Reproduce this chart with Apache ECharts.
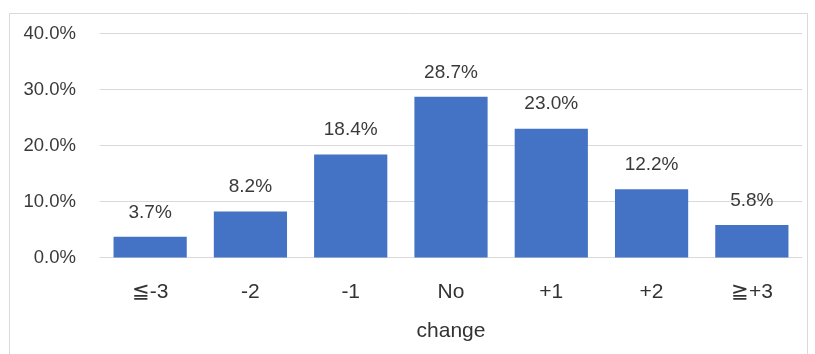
<!DOCTYPE html>
<html><head><meta charset="utf-8">
<script src="https://cdn.jsdelivr.net/npm/echarts@6/dist/echarts.min.js"></script>
<style>html,body{margin:0;padding:0;background:#fff}#c{width:815px;height:354px}</style>
</head><body><div id="c"></div>
<script>
const categories = ['≦-3', '-2', '-1', 'No\nchange', '+1', '+2', '≧+3'];
const values = [3.7, 8.2, 18.4, 28.7, 23.0, 12.2, 5.8];
const yTicks = { min: 0, max: 40, interval: 10 };

const chart = echarts.init(document.getElementById('c'), null, { renderer: 'canvas' });
const font = '"Liberation Sans", Arial, sans-serif';
chart.setOption({
  animation: false,
  backgroundColor: '#fff',
  graphic: [{
    type: 'rect', left: 7, top: 11, silent: true, z: -1,
    shape: { width: 798, height: 350 },
    style: { fill: 'none', stroke: '#d9d9d9', lineWidth: 1 }
  }],
  grid: { left: 100, right: 13, top: 33.5, bottom: 96.5, containLabel: false },
  xAxis: {
    type: 'category', data: categories,
    axisLine: { show: true, lineStyle: { color: '#d9d9d9' } },
    axisTick: { show: false },
    axisLabel: { color: '#333333', fontSize: 21, fontFamily: font, margin: 15, lineHeight: 39, interval: 0 }
  },
  yAxis: {
    type: 'value', min: yTicks.min, max: yTicks.max, interval: yTicks.interval,
    axisLine: { show: false }, axisTick: { show: false },
    splitLine: { lineStyle: { color: '#d9d9d9' } },
    axisLabel: { color: '#3a3a3a', fontSize: 18.5, fontFamily: font, margin: 24,
      formatter: v => v.toFixed(1) + '%' }
  },
  series: [{
    type: 'bar', data: values, barWidth: '73%',
    itemStyle: { color: '#4472C4' },
    label: { show: true, position: 'top', distance: 15, color: '#3a3a3a', fontSize: 19, fontFamily: font,
      formatter: p => p.value.toFixed(1) + '%' }
  }]
});
</script></body></html>
